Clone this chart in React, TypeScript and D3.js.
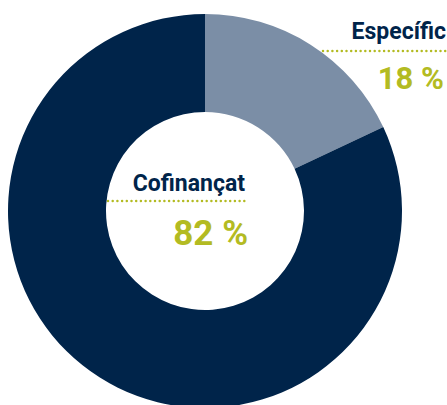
import React from "react";
import * as d3 from "d3";

const categories = ["Específic", "Cofinançat"];
const values = [18, 82];
const valueLabels = ["18 %", "82 %"];
const colors = ["#7b8ea6", "#00244a"];

const W = 447;
const H = 405;

export default function App() {
  const cx = 205;
  const cy = 211;
  const outerR = 197;
  const innerR = 99;
  const pie = d3.pie<number>().sort(null).startAngle(0).endAngle(2 * Math.PI);
  const arcs = pie(values);
  const arcGen = d3.arc<d3.PieArcDatum<number>>().innerRadius(innerR).outerRadius(outerR);

  const olive = "#b3bb22";
  const navy = "#00244a";
  const font = "Roboto, 'DejaVu Sans', sans-serif";

  const labels = [
    { name: categories[0], value: valueLabels[0], xr: 446, xv: 444, yName: 39, yVal: 89, lineX0: 323, lineX1: 447, lineY: 51, nameSize: 23, valSize: 31 },
    { name: categories[1], value: valueLabels[1], xr: 245, xv: 248, yName: 191, yVal: 245, lineX0: 108, lineX1: 247, lineY: 201, nameSize: 23, valSize: 35 },
  ];

  return (
    <svg width={W} height={H} style={{ position: "absolute", left: 0, top: 0 }}>
      <g transform={`translate(${cx},${cy})`}>
        {arcs.map((a, i) => (
          <path key={i} d={arcGen(a) || ""} fill={colors[i]} />
        ))}
      </g>
      {labels.map((l, i) => (
        <g key={i}>
          <text x={l.xr} y={l.yName} textAnchor="end" fontFamily={font} fontWeight={700} fontSize={l.nameSize} fill={navy}>
            {l.name}
          </text>
          <line x1={l.lineX0} x2={l.lineX1} y1={l.lineY} y2={l.lineY} stroke={olive} strokeWidth={2.5} strokeLinecap="round" strokeDasharray="0 4.7" />
          <text x={l.xv} y={l.yVal} textAnchor="end" fontFamily={font} fontWeight={700} fontSize={l.valSize} fill={olive}>
            {l.value}
          </text>
        </g>
      ))}
    </svg>
  );
}
